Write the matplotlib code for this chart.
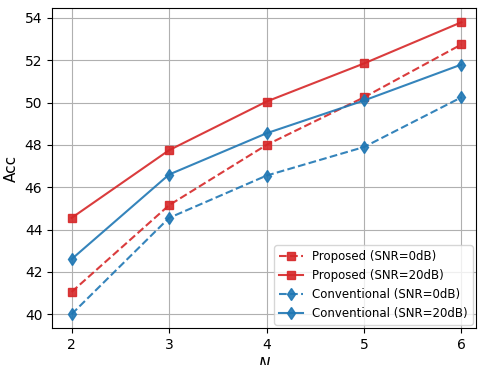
import numpy as np
import matplotlib
matplotlib.use('Agg')
import matplotlib.pyplot as plt

# number of N values
n_vals = [2, 3, 4, 5, 6]
prop_0db = [41.05, 45.15, 48.0, 50.25, 52.75]
prop_20db = [44.55, 47.75, 50.05, 51.85, 53.8]
conv_0db = [40.0, 44.55, 46.55, 47.9, 50.25]
conv_20db = [42.6, 46.6, 48.55, 50.1, 51.8]

fig = plt.figure(figsize=(4.78, 3.65), dpi=100)
ax = fig.add_axes([0.109, 0.101, 0.887, 0.877])

red = '#d62728'
blue = '#1f77b4'
ax.plot(n_vals, prop_0db, '--s', color=red, alpha=0.9, label='Proposed (SNR=0dB)')
ax.plot(n_vals, prop_20db, '-s', color=red, alpha=0.9, label='Proposed (SNR=20dB)')
ax.plot(n_vals, conv_0db, '--d', color=blue, alpha=0.9, label='Conventional (SNR=0dB)')
ax.plot(n_vals, conv_20db, '-d', color=blue, alpha=0.9, label='Conventional (SNR=20dB)')

ax.set_xlim(1.8, 6.15)
ax.set_ylim(39.34, 54.47)
ax.set_xticks(n_vals)
ax.set_yticks(np.arange(40, 55, 2))
ax.grid(True)
ax.set_xlabel('$N$', fontsize=11, labelpad=3)
ax.set_ylabel('Acc', fontsize=11)
ax.legend(loc='lower right', fontsize=8.5, borderaxespad=0.3)

plt.savefig('out.png', dpi=100)
